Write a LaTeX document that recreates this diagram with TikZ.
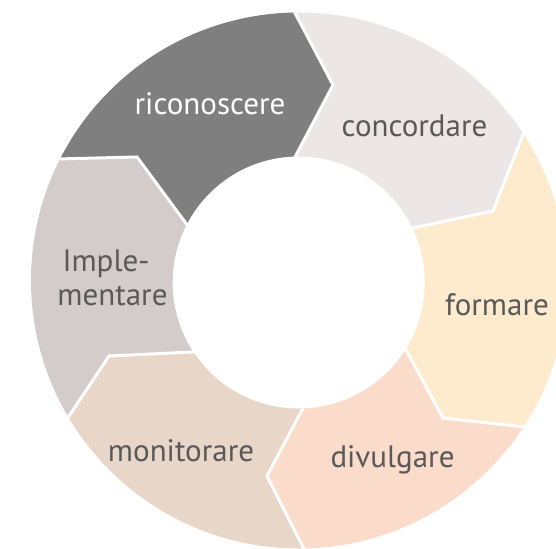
\documentclass[tikz,border=0pt]{standalone}
\usepackage{fontspec}
\setmainfont{PT Sans}
\usetikzlibrary{calc}
\definecolor{cRic}{HTML}{7F7F7F}
\definecolor{cConc}{HTML}{ECE6E6}
\definecolor{cForm}{HTML}{FEEBCE}
\definecolor{cDiv}{HTML}{FBDCCA}
\definecolor{cMon}{HTML}{E8D6C9}
\definecolor{cImpl}{HTML}{D3CCCA}
\definecolor{txt}{HTML}{595959}
\begin{document}
\begin{tikzpicture}[x=1pt,y=-1pt,
  seglabel/.style={font=\fontsize{31}{33}\selectfont, text=txt, anchor=base, inner sep=0pt},
  gapline/.style={draw=white, line width=3pt, line join=miter}]
\clip (0,0) rectangle (556,548);
\fill[white] (0,0) rectangle (556,548);
\coordinate (Co) at (299,280.5);
\coordinate (Ci) at (298.7,282.5);
% boundaries: outer point, tip, inner point
\coordinate (o1) at (295,13);  \coordinate (t1) at (333,85);  \coordinate (i1) at (295,157);
\coordinate (o2) at (523,135); \coordinate (t2) at (493,211); \coordinate (i2) at (413,228);
\coordinate (o3) at (525,427); \coordinate (t3) at (443,418); \coordinate (i3) at (406,350);
\coordinate (o4) at (303,547); \coordinate (t4) at (267,476); \coordinate (i4) at (303,408);
\coordinate (o5) at (67,419);  \coordinate (t5) at (109,356); \coordinate (i5) at (192,352);
\coordinate (o6) at (57,159);  \coordinate (t6) at (137,157); \coordinate (i6) at (185,222);
\foreach \k in {1,...,6}{
  \coordinate (f\k) at ($(t\k)!3!(o\k)$);
  \coordinate (g\k) at ($(t\k)!1.25!(i\k)$);
}
\begin{scope}
  \clip (Co) circle[radius=268pt];
  \fill[cRic]  (Ci) -- (i6) -- (t6) -- (o6) -- (f6) -- (f1) -- (o1) -- (t1) -- (i1) -- cycle;
  \fill[cConc] (Ci) -- (i1) -- (t1) -- (o1) -- (f1) -- (f2) -- (o2) -- (t2) -- (i2) -- cycle;
  \fill[cForm] (Ci) -- (i2) -- (t2) -- (o2) -- (f2) -- (f3) -- (o3) -- (t3) -- (i3) -- cycle;
  \fill[cDiv]  (Ci) -- (i3) -- (t3) -- (o3) -- (f3) -- (f4) -- (o4) -- (t4) -- (i4) -- cycle;
  \fill[cMon]  (Ci) -- (i4) -- (t4) -- (o4) -- (f4) -- (f5) -- (o5) -- (t5) -- (i5) -- cycle;
  \fill[cImpl] (Ci) -- (i5) -- (t5) -- (o5) -- (f5) -- (f6) -- (o6) -- (t6) -- (i6) -- cycle;
  \foreach \k in {1,...,6}{
    \draw[gapline] (g\k) -- (t\k) -- ($(t\k)!1.6!(o\k)$);
  }
\end{scope}
\fill[white] (Ci) circle[radius=126pt];
\node[seglabel, text=white] (ric) at (210,115) {riconoscere};
\node[seglabel] (conc) at (414.5,137) {concordare};
\node[seglabel] (form) at (497,315) {formare};
\node[seglabel] (div) at (392.5,467) {divulgare};
\node[seglabel] (mon) at (181,461) {monitorare};
\node[seglabel] (impla) at (106,271.7) {Imple-};
\node[seglabel] (implb) at (112.5,305) {mentare};
\end{tikzpicture}
\end{document}
